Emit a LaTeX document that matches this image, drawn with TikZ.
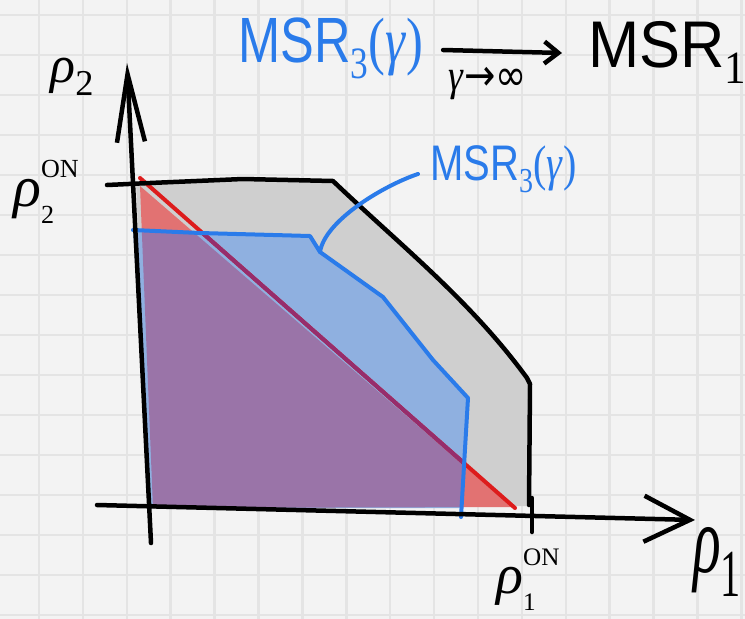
\documentclass[tikz,border=0pt]{standalone}
\usepackage{fontspec}
\usepackage{graphicx}
\setmainfont{Liberation Serif}
\setsansfont{Liberation Sans}
\newfontfamily\symfont{DejaVu Sans}
\usetikzlibrary{arrows.meta}
\definecolor{paperColor}{HTML}{F3F3F3}
\definecolor{gridColor}{HTML}{E4E4E4}
\definecolor{regionGray}{HTML}{CFCFCF}
\definecolor{regionRed}{HTML}{E27272}
\definecolor{regionBlue}{HTML}{8FB0E0}
\definecolor{regionPurple}{HTML}{9A74A8}
\definecolor{penRed}{HTML}{DD1C1C}
\definecolor{penMaroon}{HTML}{962D6C}
\definecolor{penBlue}{HTML}{2A7BEA}
\newcommand{\squeeze}[2]{\scalebox{#1}[1]{#2}}
\newcommand{\lowsub}[1]{\raisebox{-0.25em}{\scalebox{0.7}{#1}}}
\newcommand{\onlabel}[1]{\textit{ρ}\rlap{\raisebox{-0.3em}{\scalebox{0.45}{#1}}}\raisebox{0.5em}{\scalebox{0.45}{ON}}}
\newcommand{\msrlabel}{\textsf{MSR}\lowsub{3}(\textit{γ})}
\newcommand{\blueregion}{(133,230) -- (200,233) -- (310,236) -- (320,252) -- (383,297) -- (433,360) -- (468,398) -- (463,508) -- (150,508) -- cycle}
\newcommand{\redregion}{(140,186) -- (512,507) -- (153,508) -- cycle}

\begin{document}
\begin{tikzpicture}[x=1pt, y=-1pt, line cap=round, line join=round,
    pen/.style={line width=4.5pt},
    bluepen/.style={line width=4pt, penBlue}]
    \useasboundingbox (0,0) rectangle (745,619);
    \fill[paperColor] (0,0) rectangle (745,619);
    \foreach \gx in {0,...,16}
        \draw[gridColor, line width=2.5pt] ({39+43.9*\gx},0) -- ({39+43.9*\gx},619);
    \foreach \gy in {0,...,15}
        \draw[gridColor, line width=2.5pt] (0,{15+40*\gy}) -- (745,{15+40*\gy});
    % regions
    \fill[regionGray] (136,183) -- (333,180) .. controls (400,245) and (470,300) .. (527,378) -- (530,506) -- (150,506) -- cycle;
    \fill[regionRed] \redregion;
    \fill[regionBlue] \blueregion;
    \begin{scope}
        \clip \redregion;
        \fill[regionPurple] \blueregion;
    \end{scope}
    \draw[line width=4pt, penRed] (140,178) -- (515,508);
    \begin{scope}
        \clip \blueregion;
        \draw[line width=4pt, penMaroon] (140,178) -- (515,508);
    \end{scope}
    \coordinate (kink) at (320,252);
    \draw[bluepen] (133,230) -- (200,233) -- (310,236) -- (kink) -- (383,297) -- (433,360) -- (468,398) -- (461,517);
    \draw[pen] (107,185) -- (150,183) -- (243,179) -- (333,181) .. controls (400,245) and (470,300) .. (527,378) -- (530,384) -- (529,505);
    % axes
    \draw[pen, -{Straight Barb[length=68pt, width=28pt]}] (151,543) -- (127,63);
    \draw[pen, -{Straight Barb[length=46pt, width=46pt]}] (97,505) -- (695,520);
    \draw[pen] (532,498) -- (532,532);
    \node[font=\fontsize{52}{52}\selectfont] (rhotwo) at (72,77) {\textit{ρ}\lowsub{2}};
    \node[font=\fontsize{96}{96}\selectfont, anchor=base west, inner sep=0pt] (rhoone) at (693,572) {\squeeze{0.6}{\textit{ρ}\lowsub{1}}};
    \node[font=\fontsize{58}{58}\selectfont] (rhotwoon) at (46,192) {\onlabel{2}};
    \node[font=\fontsize{56}{56}\selectfont] (rhooneon) at (528,580) {\onlabel{1}};
    % labels
    \node[penBlue, font=\fontsize{50}{50}\selectfont, anchor=base west, inner sep=0pt] (msrmid) at (430,180) {\squeeze{0.8}{\msrlabel}};
    \draw[bluepen] ([shift={(-12pt,6pt)}]msrmid.base west) .. controls +(-33,11) and +(5,-32) .. (kink);
    \node[penBlue, font=\fontsize{64}{64}\selectfont, anchor=base west, inner sep=0pt] (msrtop) at (238,62) {\squeeze{0.79}{\msrlabel}};
    \node[font=\fontsize{66}{66}\selectfont, anchor=base west, inner sep=0pt] (msrone) at (588,67) {\squeeze{0.93}{\textsf{MSR}\lowsub{1}}};
    \draw[pen, -{Straight Barb[length=14pt, width=22pt]}] ([shift={(20pt,12pt)}]msrtop.base east) -- ([shift={(-26pt,14pt)}]msrone.base west);
    \node[font=\fontsize{44}{44}\selectfont] (limit) at (488,84) {\squeeze{0.85}{\textit{γ}{\symfont →∞}}};
\end{tikzpicture}
\end{document}
